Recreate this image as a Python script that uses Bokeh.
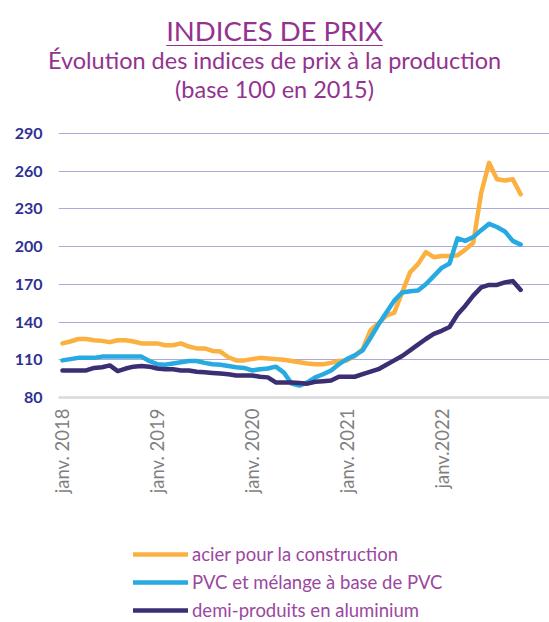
import math
from bokeh.plotting import figure
from bokeh.models import Range1d, FixedTicker, Legend, LegendItem, Div
from bokeh.layouts import column
from bokeh.embed import file_html
from bokeh.resources import INLINE

# Month index: 0 = janv. 2018 ... 58 = nov. 2022
months = list(range(59))

acier = [123, 124.5, 126.5, 126.5, 125.5, 125, 124, 125.5, 125.5, 124.5,
         123, 123, 123, 121.5, 121.5, 123, 120.5, 119, 119, 117,
         116.5, 112, 109.5, 109.5, 110.5, 111.5, 111, 110.5, 110, 109,
         108, 107, 106.5, 106.5, 107.5, 109, 109.5, 113, 118.5, 133.5,
         139, 145, 147.5, 163.5, 179.5, 186, 195.5, 191.5, 192.5, 192.5,
         193, 197.5, 203, 242.5, 266.5, 253.5, 252.5, 253.5, 241.5]

pvc = [109.5, 110.5, 111.5, 111.5, 111.5, 112.5, 112.5, 112.5, 112.5, 112.5,
       112.5, 109, 106.5, 106, 107, 108, 109, 109, 107.5, 106.5,
       106, 105, 104, 103.5, 101.5, 102.5, 103, 104.5, 100, 91,
       89.5, 92, 96, 98.5, 101.5, 106.5, 110.5, 113.5, 117.5, 127.5,
       138, 147.5, 157, 163.5, 164.5, 165, 170, 176.5, 183, 186.5,
       206.5, 204.5, 207.5, 213, 218, 215.5, 212, 204.5, 201.5]

alu = [101.5, 101.5, 101.5, 101.5, 103.5, 104, 105.5, 101, 103, 104.5,
       105, 104.5, 103, 102.5, 102.5, 101.5, 101.5, 100.5, 100, 99.5,
       99, 98.5, 97.5, 97.5, 97.5, 96.5, 96, 92, 92, 92,
       91.5, 91, 92.5, 93, 93.5, 96.5, 96.5, 96.5, 98.5, 100.5,
       102.5, 106, 109.5, 113, 117.5, 122, 126.5, 130.5, 133, 136,
       146, 153, 161, 167.5, 169.5, 169.5, 171.5, 172.5, 165.5]

series_names = ["acier pour la construction",
                "PVC et mélange à base de PVC",
                "demi-produits en aluminium"]
series_colors = ["#FBB040", "#27AAE1", "#3B2E72"]

x_tick_positions = [0, 12, 24, 36, 48]
x_tick_labels = ["janv. 2018", "janv. 2019", "janv. 2020", "janv. 2021", "janv.2022"]
y_ticks = [80, 110, 140, 170, 200, 230, 260, 290]

PURPLE = "#93338F"
W = 549

title_div = Div(
    text=(
        f'<div style="text-align:center;color:{PURPLE};font-family:Lato;width:{W}px;padding-top:16px">'
        '<div style="font-size:27.5px;line-height:30px;"><span style="text-decoration:underline;'
        'text-decoration-thickness:1px;text-underline-offset:4px">INDICES DE PRIX</span></div>'
        '<div style="font-size:23.5px;line-height:29px;">Évolution des indices de prix à la production</div>'
        '<div style="font-size:23.5px;line-height:29px;">(base 100 en 2015)</div>'
        '</div>'
    ),
    width=W, height=108, margin=(0, 0, 0, 0),
)

p = figure(width=W, height=389,
           x_range=Range1d(-0.5, 61.65), y_range=Range1d(80, 293),
           output_backend="svg", toolbar_location=None,
           min_border_left=58, min_border_right=0, min_border_top=21, min_border_bottom=100,
           outline_line_color=None, margin=(0, 0, 0, 0))

renderers = []
for vals, col in zip([acier, pvc, alu], series_colors):
    r = p.line(months, vals, line_color=col, line_width=4.5,
               line_join="round", line_cap="round")
    renderers.append(r)

# X axis
p.xaxis.ticker = FixedTicker(ticks=x_tick_positions)
p.xaxis.major_label_overrides = {k: v for k, v in zip(x_tick_positions, x_tick_labels)}
p.xaxis.major_label_orientation = math.pi / 2
p.xaxis.major_label_standoff = 11
p.xaxis.major_tick_in = 0
p.xaxis.major_tick_out = 0
p.xaxis.minor_tick_in = 0
p.xaxis.minor_tick_out = 0
p.xaxis.axis_line_color = "#D9D9D9"
p.xaxis.axis_line_width = 2.5
p.xaxis.major_label_text_font = "Lato"
p.xaxis.major_label_text_font_size = "18.5px"
p.xaxis.major_label_text_color = "#7F7F7F"

# Y axis
p.yaxis.ticker = FixedTicker(ticks=y_ticks)
p.yaxis.major_tick_in = 0
p.yaxis.major_tick_out = 0
p.yaxis.minor_tick_in = 0
p.yaxis.minor_tick_out = 0
p.yaxis.axis_line_color = None
p.yaxis.major_label_standoff = 16
p.yaxis.major_label_text_font = "Lato"
p.yaxis.major_label_text_font_style = "bold"
p.yaxis.major_label_text_font_size = "16px"
p.yaxis.major_label_text_color = "#2E3192"

# Grid
p.xgrid.visible = False
p.ygrid.ticker = FixedTicker(ticks=y_ticks)
p.ygrid.grid_line_color = "#A9ACDA"
p.ygrid.grid_line_width = 1.2

# Legend panel (separate figure below the chart; series lie outside its range)
lg = figure(width=W, height=124, x_range=Range1d(0, 1), y_range=Range1d(0, 1),
            x_axis_location=None, y_axis_location=None,
            output_backend="svg", toolbar_location=None,
            min_border_left=0, min_border_right=0, min_border_top=0, min_border_bottom=0,
            outline_line_color=None, margin=(0, 0, 0, 0))
lg.grid.visible = False
keys = [lg.line(months, vals, line_color=c, line_width=4.5, line_cap="round")
        for vals, c in zip([acier, pvc, alu], series_colors)]

legend = Legend(
    items=[LegendItem(label=n, renderers=[r]) for n, r in zip(series_names, keys)],
    location=(75, 0), orientation="vertical",
    glyph_width=55, glyph_height=20, label_height=20, spacing=6,
    padding=0, margin=0, label_standoff=4,
    label_text_font="Lato", label_text_font_size="18.5px", label_text_color="#9B479F",
    border_line_color=None, background_fill_alpha=0,
)
lg.add_layout(legend, "center")

layout = column(title_div, p, lg, spacing=0, margin=(0, 0, 0, 0))

open("out.html", "w").write(file_html(layout, INLINE))
